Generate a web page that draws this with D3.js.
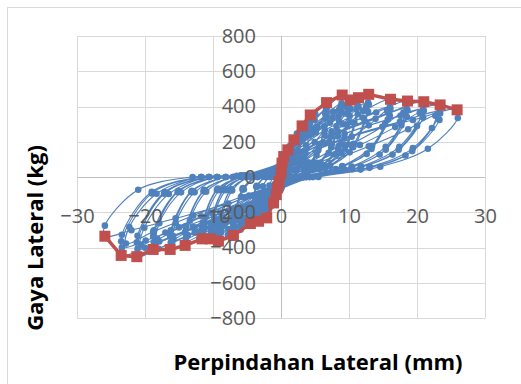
<!DOCTYPE html>
<html><head><meta charset="utf-8">
<script src="https://cdn.jsdelivr.net/npm/d3@7"></script>
<style>
html,body{margin:0;padding:0;background:#fff;}
svg{display:block;}
</style></head>
<body>
<svg id="chart" width="521" height="384"></svg>
<script>
// ---- data ----
const xTicks = [-30, -20, -10, 0, 10, 20, 30];
const yTicks = [-800, -600, -400, -200, 0, 200, 400, 600, 800];
const xTitle = "Perpindahan Lateral (mm)";
const yTitle = "Gaya Lateral (kg)";

// envelope (red)
const envX = [-25.9,-23.5,-21.2,-18.8,-16.3,-14.1,-11.6,-10.4,-9.2,-7.0,-4.5,-3.3,-2.1,-1.1,-0.7,-0.5,-0.3,
               0.0,0.15,0.4,1.0,1.9,3.1,4.3,6.7,9.0,10.2,11.4,12.9,16.1,18.6,21.0,23.4,25.9];
const envY = [-336,-445,-452,-411,-411,-388,-351,-351,-364,-332,-264,-251,-232,-147,-100,-62,-25,
               23,79,116,154,211,290,352,422,465,437,450,469,441,431,427,409,381];

// hysteresis cycles (blue): [displacement, force]
const cycle1 = [[0,0],[0,23],[0,5],[-0.3,-25],[-0.1,0]];
const cycle2 = [[0.05,30],[0.15,79],[0.1,20],[-0.2,-30],[-0.5,-62],[-0.3,-10],[0,5]];
const cycle3 = [[0.1,50],[0.4,116],[0.3,40],[-0.2,-40],[-0.7,-100],[-0.5,-20],[0,8]];
const cycle4 = [[0.2,70],[0.6,120],[1.0,154],[0.8,60],[0.3,5],[-0.3,-60],[-0.7,-115],[-1.1,-147],[-0.9,-40],[-0.4,0],[0,10]];
const cycleA = [[0.19,63],[0.76,127],[1.43,179],[1.9,211],[1.9,186],[1.58,84],[1.06,30],[0.38,0],[0,-35],[-0.63,-104],[-1.26,-162],[-1.79,-209],[-2.1,-232],[-2.1,-190],[-1.7,-49],[-1.05,0],[-0.53,5]];
const cycleB = [[0.31,87],[1.24,174],[2.33,247],[3.1,290],[3.1,255],[2.57,116],[1.74,41],[0.62,0],[0,-38],[-0.99,-113],[-1.98,-176],[-2.81,-226],[-3.3,-251],[-3.3,-206],[-2.67,-53],[-1.65,0],[-0.83,5]];
const cycleC = [[0.43,106],[1.72,211],[3.23,299],[4.3,352],[4.3,310],[3.57,141],[2.41,49],[0.86,0],[0,-40],[-1.35,-119],[-2.7,-185],[-3.83,-238],[-4.5,-264],[-4.5,-216],[-3.65,-55],[-2.25,0],[-1.13,5]];
const cycleC2 = [[0.42,95],[1.68,190],[3.15,269],[4.2,317],[4.2,279],[3.49,127],[2.35,44],[0.84,0],[0,-36],[-1.32,-107],[-2.64,-167],[-3.74,-214],[-4.4,-238],[-4.4,-195],[-3.56,-50],[-2.2,0],[-1.1,5]];
const cycleC3 = [[1.08,66],[2.37,150],[3.44,233],[4.17,299],[4.09,239],[3.35,105],[2.15,36],[0.77,0],[0,-22],[-1.13,-67],[-2.48,-130],[-3.6,-184],[-4.37,-224],[-4.28,-168],[-3.51,-56],[-2.25,0],[-0.9,5]];
const cycleD = [[0.67,127],[2.68,253],[5.03,359],[6.7,422],[6.7,371],[5.56,169],[3.75,59],[1.34,0],[0,-50],[-2.1,-149],[-4.2,-232],[-5.95,-299],[-7.0,-332],[-7.0,-272],[-5.67,-70],[-3.5,0],[-1.75,7]];
const cycleD2 = [[0.66,114],[2.64,228],[4.95,323],[6.6,380],[6.6,334],[5.48,152],[3.7,53],[1.32,0],[0,-45],[-2.07,-135],[-4.14,-209],[-5.87,-269],[-6.9,-299],[-6.9,-245],[-5.59,-63],[-3.45,0],[-1.73,6]];
const cycleD3 = [[1.68,79],[3.69,180],[5.36,280],[6.5,359],[6.37,287],[5.23,126],[3.35,43],[1.21,0],[0,-28],[-1.75,-85],[-3.85,-164],[-5.6,-231],[-6.79,-282],[-6.65,-212],[-5.46,-71],[-3.5,0],[-1.4,5]];
const cycleE = [[0.9,140],[3.6,279],[6.75,395],[9.0,465],[9.0,409],[7.47,186],[5.04,65],[1.8,0],[0,-55],[-2.76,-164],[-5.52,-255],[-7.82,-328],[-9.2,-364],[-9.2,-298],[-7.45,-76],[-4.6,0],[-2.3,7]];
const cycleE2 = [[0.89,125],[3.56,251],[6.68,355],[8.9,418],[8.9,368],[7.39,167],[4.98,59],[1.78,0],[0,-49],[-2.73,-148],[-5.46,-230],[-7.74,-295],[-9.1,-328],[-9.1,-269],[-7.37,-69],[-4.55,0],[-2.28,7]];
const cycleE3 = [[2.25,87],[4.95,198],[7.2,308],[8.73,395],[8.55,316],[7.02,138],[4.5,47],[1.62,0],[0,-31],[-2.3,-93],[-5.06,-179],[-7.36,-253],[-8.92,-309],[-8.74,-232],[-7.18,-77],[-4.6,0],[-1.84,5]];
const cycleF = [[1.02,131],[4.08,262],[7.65,371],[10.2,437],[10.2,385],[8.47,175],[5.71,61],[2.04,0],[0,-53],[-3.12,-158],[-6.24,-246],[-8.84,-316],[-10.4,-351],[-10.4,-288],[-8.42,-74],[-5.2,0],[-2.6,7]];
const cycleF2 = [[1.01,118],[4.04,236],[7.58,334],[10.1,393],[10.1,346],[8.38,157],[5.66,55],[2.02,0],[0,-47],[-3.09,-142],[-6.18,-221],[-8.76,-284],[-10.3,-316],[-10.3,-259],[-8.34,-66],[-5.15,0],[-2.58,6]];
const cycleF3 = [[2.55,82],[5.61,186],[8.16,289],[9.89,371],[9.69,297],[7.96,130],[5.1,45],[1.84,0],[0,-30],[-2.6,-89],[-5.72,-173],[-8.32,-244],[-10.1,-298],[-9.88,-224],[-8.11,-75],[-5.2,0],[-2.08,5]];
const cycleG = [[1.14,135],[4.56,270],[8.55,383],[11.4,450],[11.4,396],[9.46,180],[6.38,63],[2.28,0],[0,-53],[-3.48,-158],[-6.96,-246],[-9.86,-316],[-11.6,-351],[-11.6,-288],[-9.4,-74],[-5.8,0],[-2.9,7]];
const cycleG2 = [[1.13,122],[4.52,243],[8.48,344],[11.3,405],[11.3,356],[9.38,162],[6.33,57],[2.26,0],[0,-47],[-3.45,-142],[-6.9,-221],[-9.78,-284],[-11.5,-316],[-11.5,-259],[-9.32,-66],[-5.75,0],[-2.88,6]];
const cycleG3 = [[2.85,84],[6.27,192],[9.12,299],[11.1,383],[10.8,306],[8.89,134],[5.7,46],[2.05,0],[0,-30],[-2.9,-89],[-6.38,-173],[-9.28,-244],[-11.3,-298],[-11.0,-224],[-9.05,-75],[-5.8,0],[-2.32,5]];
const cycleH = [[1.29,141],[5.16,281],[9.68,399],[12.9,469],[12.9,413],[10.7,188],[7.22,66],[2.58,0],[0,-58],[-4.23,-175],[-8.46,-272],[-12.0,-349],[-14.1,-388],[-14.1,-318],[-11.4,-81],[-7.05,0],[-3.53,8]];
const cycleH2 = [[1.28,127],[5.12,253],[9.6,359],[12.8,422],[12.8,371],[10.6,169],[7.17,59],[2.56,0],[0,-52],[-4.2,-157],[-8.4,-244],[-11.9,-314],[-14.0,-349],[-14.0,-286],[-11.3,-73],[-7.0,0],[-3.5,7]];
const cycleH3 = [[3.23,88],[7.1,200],[10.3,311],[12.5,399],[12.3,319],[10.1,140],[6.45,48],[2.32,0],[0,-33],[-3.53,-99],[-7.76,-191],[-11.3,-271],[-13.7,-330],[-13.4,-248],[-11.0,-83],[-7.05,0],[-2.82,5]];
const cycleI = [[1.61,132],[6.44,265],[12.1,375],[16.1,441],[16.1,388],[13.4,176],[9.02,62],[3.22,0],[0,-62],[-4.89,-185],[-9.78,-288],[-13.9,-370],[-16.3,-411],[-16.3,-337],[-13.2,-86],[-8.15,0],[-4.08,8]];
const cycleI2 = [[1.6,119],[6.4,238],[12.0,337],[16.0,397],[16.0,349],[13.3,159],[8.96,56],[3.2,0],[0,-56],[-4.86,-167],[-9.72,-259],[-13.8,-333],[-16.2,-370],[-16.2,-303],[-13.1,-78],[-8.1,0],[-4.05,7]];
const cycleI3 = [[4.03,83],[8.86,188],[12.9,293],[15.6,375],[15.3,300],[12.6,131],[8.05,45],[2.9,0],[0,-35],[-4.08,-105],[-8.97,-202],[-13.0,-286],[-15.8,-349],[-15.5,-262],[-12.7,-87],[-8.15,0],[-3.26,5]];
const cycleJ = [[1.86,129],[7.44,259],[14.0,366],[18.6,431],[18.6,379],[15.4,172],[10.4,60],[3.72,0],[0,-62],[-5.64,-185],[-11.3,-288],[-16.0,-370],[-18.8,-411],[-18.8,-337],[-15.2,-86],[-9.4,0],[-4.7,8]];
const cycleJ2 = [[1.85,116],[7.4,233],[13.9,330],[18.5,388],[18.5,341],[15.4,155],[10.4,54],[3.7,0],[0,-56],[-5.61,-167],[-11.2,-259],[-15.9,-333],[-18.7,-370],[-18.7,-303],[-15.1,-78],[-9.35,0],[-4.68,7]];
const cycleJ3 = [[4.65,81],[10.2,183],[14.9,285],[18.0,366],[17.7,293],[14.5,128],[9.3,44],[3.35,0],[0,-35],[-4.7,-105],[-10.3,-202],[-15.0,-286],[-18.2,-349],[-17.9,-262],[-14.7,-87],[-9.4,0],[-3.76,5]];
const cycleK = [[2.1,128],[8.4,256],[15.8,363],[21.0,427],[21.0,376],[17.4,171],[11.8,60],[4.2,0],[0,-68],[-6.36,-203],[-12.7,-316],[-18.0,-407],[-21.2,-452],[-21.2,-371],[-17.2,-95],[-10.6,0],[-5.3,9]];
const cycleK2 = [[2.09,115],[8.36,230],[15.7,326],[20.9,384],[20.9,338],[17.3,154],[11.7,54],[4.18,0],[0,-61],[-6.33,-183],[-12.7,-285],[-17.9,-366],[-21.1,-407],[-21.1,-334],[-17.1,-85],[-10.55,0],[-5.28,8]];
const cycleK3 = [[5.25,80],[11.6,182],[16.8,283],[20.4,363],[20.0,290],[16.4,127],[10.5,44],[3.78,0],[0,-38],[-5.3,-115],[-11.7,-223],[-17.0,-315],[-20.6,-384],[-20.1,-288],[-16.5,-96],[-10.6,0],[-4.24,5]];
const cycleL = [[2.34,123],[9.36,245],[17.6,348],[23.4,409],[23.4,360],[19.4,164],[13.1,57],[4.68,0],[0,-67],[-7.05,-200],[-14.1,-312],[-20.0,-401],[-23.5,-445],[-23.5,-365],[-19.0,-93],[-11.75,0],[-5.88,9]];
const cycleL2 = [[2.33,110],[9.32,221],[17.5,313],[23.3,368],[23.3,324],[19.3,147],[13.0,52],[4.66,0],[0,-60],[-7.02,-180],[-14.0,-280],[-19.9,-360],[-23.4,-400],[-23.4,-328],[-19.0,-84],[-11.7,0],[-5.85,8]];
const cycleL3 = [[5.85,77],[12.9,174],[18.7,271],[22.7,348],[22.2,278],[18.3,122],[11.7,42],[4.21,0],[0,-38],[-5.88,-113],[-12.9,-219],[-18.8,-310],[-22.8,-378],[-22.3,-284],[-18.3,-95],[-11.75,0],[-4.7,5]];
const cycleM = [[2.59,114],[10.4,229],[19.4,324],[25.9,381],[26.0,335],[21.6,160],[14.6,58],[5.5,0],[0,-50],[-7.77,-151],[-15.5,-235],[-22.0,-302],[-25.9,-336],[-25.9,-276],[-21.0,-72],[-13.0,0],[-6.5,7],[0,15]];
const cycles = [cycle1,cycle2,cycle3,cycle4,cycleA,cycleB,
                cycleC,cycleC2,cycleC3,cycleD,cycleD2,cycleD3,cycleE,cycleE2,cycleE3,
                cycleF,cycleF2,cycleF3,cycleG,cycleG2,cycleG3,cycleH,cycleH2,cycleH3,
                cycleI,cycleI2,cycleI3,cycleJ,cycleJ2,cycleJ3,cycleK,cycleK2,cycleK3,
                cycleL,cycleL2,cycleL3,cycleM];

// ---- drawing ----
const blue = "#4F81BD", red = "#C0504D";
const svg = d3.select("#chart");
const x = d3.scaleLinear().domain([-30, 30]).range([77, 485]);
const y = d3.scaleLinear().domain([-800, 800]).range([318, 36]);

// chart border
svg.append("rect").attr("x", 7.5).attr("y", 7.5).attr("width", 530).attr("height", 400)
  .attr("fill", "#fff").attr("stroke", "#D9D9D9").attr("stroke-width", 1);

// gridlines
svg.append("g").selectAll("line").data(xTicks).join("line")
  .attr("x1", d => Math.round(x(d)) + 0.5).attr("x2", d => Math.round(x(d)) + 0.5)
  .attr("y1", y(800)).attr("y2", y(-800))
  .attr("stroke", "#D9D9D9").attr("stroke-width", 1);
svg.append("g").selectAll("line").data(yTicks).join("line")
  .attr("y1", d => Math.round(y(d)) + 0.5).attr("y2", d => Math.round(y(d)) + 0.5)
  .attr("x1", x(-30)).attr("x2", x(30))
  .attr("stroke", "#D9D9D9").attr("stroke-width", 1);

// axes lines at 0
svg.append("line").attr("x1", x(-30)).attr("x2", x(30))
  .attr("y1", Math.round(y(0)) + 0.5).attr("y2", Math.round(y(0)) + 0.5)
  .attr("stroke", "#BFBFBF").attr("stroke-width", 1);
svg.append("line").attr("y1", y(800)).attr("y2", y(-800))
  .attr("x1", Math.round(x(0)) + 0.5).attr("x2", Math.round(x(0)) + 0.5)
  .attr("stroke", "#BFBFBF").attr("stroke-width", 1);

// blue loops
const smooth = d3.line().x(d => x(d[0])).y(d => y(d[1])).curve(d3.curveCatmullRom.alpha(0.5));
const allBlue = [].concat(...cycles);
svg.append("path").datum(allBlue).attr("d", smooth)
  .attr("fill", "none").attr("stroke", blue).attr("stroke-width", 1.1);
svg.append("g").selectAll("circle").data(allBlue).join("circle")
  .attr("cx", d => x(d[0])).attr("cy", d => y(d[1])).attr("r", 3.3).attr("fill", blue);

// envelope
const env = envX.map((v, i) => [v, envY[i]]);
svg.append("path").datum(env)
  .attr("d", d3.line().x(d => x(d[0])).y(d => y(d[1])))
  .attr("fill", "none").attr("stroke", red).attr("stroke-width", 3.5).attr("stroke-linejoin", "round");
svg.append("g").selectAll("rect").data(env).join("rect")
  .attr("x", d => x(d[0]) - 5.5).attr("y", d => y(d[1]) - 5.5)
  .attr("width", 11).attr("height", 11).attr("fill", red);

// tick labels via axes
const font = "'Open Sans', 'DejaVu Sans', sans-serif";
const xAxis = svg.append("g").attr("transform", `translate(0,${y(0)})`)
  .call(d3.axisBottom(x).tickValues(xTicks).tickSize(0).tickPadding(32));
const yAxis = svg.append("g").attr("transform", `translate(${x(0)},0)`)
  .call(d3.axisLeft(y).tickValues(yTicks).tickSize(0).tickPadding(25));
[xAxis, yAxis].forEach(g => {
  g.select(".domain").remove();
  g.selectAll("text").attr("fill", "#595959").style("font-family", font).style("font-size", "20px");
});

// axis titles
svg.append("text").attr("x", 318).attr("y", 370).attr("text-anchor", "middle")
  .style("font-family", font).style("font-size", "22px").style("font-weight", "bold")
  .attr("fill", "#000").text(xTitle);
svg.append("text").attr("transform", "translate(43,238) rotate(-90)").attr("text-anchor", "middle")
  .style("font-family", font).style("font-size", "22px").style("font-weight", "bold")
  .attr("fill", "#000").text(yTitle);
</script>
</body></html>
